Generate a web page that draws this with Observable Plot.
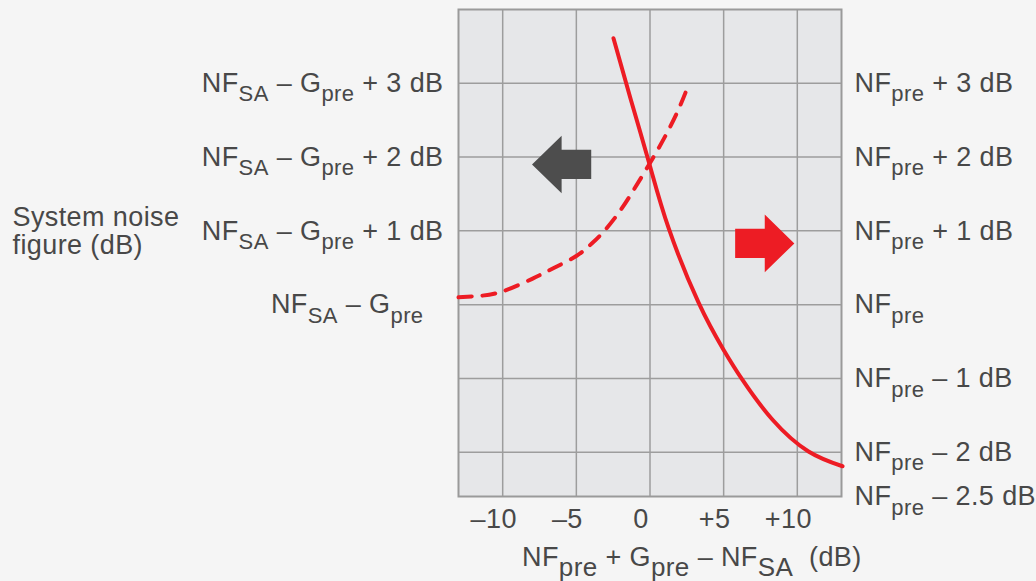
<!DOCTYPE html>
<html>
<head>
<meta charset="utf-8">
<script src="https://cdn.jsdelivr.net/npm/d3@7"></script>
<script src="https://cdn.jsdelivr.net/npm/@observablehq/plot@0.6"></script>
<style>
  html, body { margin: 0; padding: 0; background: #f5f5f5; }
  #chart { width: 1036px; height: 581px; }
</style>
</head>
<body>
<div id="chart"></div>
<script>
// ---- Data ----
// Solid curve: system NF relative to NF_pre (right scale)
const solidX = [-2.48, -1.32, -0.03, 1.26, 3.29, 4.99, 6.28, 8.32, 10.76, 13.07];
const solidY = [3.61, 2.79, 1.9, 1.04, 0.03, -0.61, -1.02, -1.56, -1.99, -2.19];
// Dashed curve: system NF relative to NF_SA - G_pre (left scale)
const dashedX = [-13, -11.5, -10, -8, -6.5, -5, -4, -3.1, -2, -1, 0, 1, 1.9, 2.54];
const dashedY = [0.1, 0.12, 0.18, 0.35, 0.5, 0.66, 0.82, 1.0, 1.28, 1.59, 1.92, 2.27, 2.63, 2.94];

// Tick values and labels
const xTickValues = [-10, -5, 0, 5, 10];
const xTickLabels = ["–10", "–5", "0", "+5", "+10"];
const gridYValues = [-2, -1, 0, 1, 2, 3];
const leftTickValues = [3, 2, 1];
const leftTickLabels = ["NF_{SA} – G_{pre} + 3 dB", "NF_{SA} – G_{pre} + 2 dB", "NF_{SA} – G_{pre} + 1 dB"];
const leftBaseValues = [0];
const leftBaseLabels = ["NF_{SA} – G_{pre}"];
const rightTickValues = [3, 2, 1, 0, -1, -2];
const rightTickLabels = ["NF_{pre} + 3 dB", "NF_{pre} + 2 dB", "NF_{pre} + 1 dB", "NF_{pre}", "NF_{pre} – 1 dB", "NF_{pre} – 2 dB"];
const rightBottomValues = [-2.5];
const rightBottomLabels = ["NF_{pre} – 2.5 dB"];
const yAxisTitle = "System noise\nfigure (dB)";
const xAxisTitle = "NF_{pre} + G_{pre} – NF_{SA} \u00a0(dB)";

// Direction arrows (annotations)
const leftArrow = [{x: -6, y: 1.9}];
const rightArrow = [{x: 7.79, y: 0.83}];

const solidData = solidX.map((x, i) => ({x, y: solidY[i]}));
const dashedData = dashedX.map((x, i) => ({x, y: dashedY[i]}));

const RED = "#ed1c24";
const GRID = "#9d9d9d";

const arrowSymbol = {
  draw(ctx) {
    ctx.moveTo(29.6, 0);
    ctx.lineTo(0, -28.8);
    ctx.lineTo(0, -14.6);
    ctx.lineTo(-29.6, -14.6);
    ctx.lineTo(-29.6, 14.6);
    ctx.lineTo(0, 14.6);
    ctx.lineTo(0, 28.8);
    ctx.closePath();
  }
};

const fmt = (vals, labs) => d => labs[vals.indexOf(d)];

const plot = Plot.plot({
  width: 1036,
  height: 581,
  marginLeft: 458,
  marginRight: 195,
  marginTop: 9,
  marginBottom: 85,
  x: {domain: [-13, 13], label: null},
  y: {domain: [-2.6, 4], label: null},
  style: {
    fontFamily: "'Liberation Sans', Arial, Helvetica, sans-serif",
    fontSize: "27px",
    letterSpacing: "0.4px",
    color: "#484848",
    background: "#f5f5f5",
    overflow: "visible"
  },
  marks: [
    Plot.frame({fill: "#e6e7e9"}),
    Plot.gridX(xTickValues, {stroke: GRID, strokeOpacity: 1, strokeWidth: 1.5}),
    Plot.gridY(gridYValues, {stroke: GRID, strokeOpacity: 1, strokeWidth: 1.5}),
    Plot.frame({stroke: "#9a9a9a", strokeWidth: 2}),
    Plot.line(dashedData, {x: "x", y: "y", stroke: RED, strokeWidth: 4, strokeDasharray: "13,11", strokeLinecap: "round", curve: "natural"}),
    Plot.line(solidData, {x: "x", y: "y", stroke: RED, strokeWidth: 4, strokeLinecap: "round", curve: "natural"}),
    Plot.dot(leftArrow, {x: "x", y: "y", symbol: arrowSymbol, rotate: 180, fill: "#4d4d4d", stroke: null}),
    Plot.dot(rightArrow, {x: "x", y: "y", symbol: arrowSymbol, fill: RED, stroke: null}),
    Plot.axisX(xTickValues, {tickFormat: fmt(xTickValues, xTickLabels), tickSize: 0, tickPadding: 12, dx: -9, label: null}),
    Plot.axisY(leftTickValues, {anchor: "left", tickFormat: fmt(leftTickValues, leftTickLabels), tickSize: 0, tickPadding: 15, label: null}),
    Plot.axisY(leftBaseValues, {anchor: "left", tickFormat: fmt(leftBaseValues, leftBaseLabels), tickSize: 0, tickPadding: 35, label: null}),
    Plot.axisY(rightTickValues, {anchor: "right", tickFormat: fmt(rightTickValues, rightTickLabels), tickSize: 0, tickPadding: 13, label: null}),
    Plot.axisY(rightBottomValues, {anchor: "right", tickFormat: fmt(rightBottomValues, rightBottomLabels), tickSize: 0, tickPadding: 13, dy: 7.5, label: null}),
    Plot.text([{y: 1, t: yAxisTitle}], {y: "y", text: "t", frameAnchor: "left", textAnchor: "start", dx: -446, lineHeight: 1.03, lineAnchor: "middle"}),
    Plot.text([{t: xAxisTitle}], {text: "t", frameAnchor: "bottom", textAnchor: "start", dx: -128, dy: 60.5, lineAnchor: "middle"})
  ]
});

// Render subscripts "_{...}" as real tspans
const NS = "http://www.w3.org/2000/svg";
plot.querySelectorAll("text").forEach(t => {
  const s = t.textContent;
  if (!s.includes("_{")) return;
  const big = s.includes("(dB)");
  const subSize = big ? "26px" : "22px";
  const shift = big ? 10 : 9.5;
  while (t.firstChild) t.removeChild(t.firstChild);
  let down = false;
  for (const p of s.split(/(_\{[^}]*\})/)) {
    if (!p) continue;
    const ts = document.createElementNS(NS, "tspan");
    if (p.startsWith("_{")) {
      ts.textContent = p.slice(2, -1);
      ts.setAttribute("font-size", subSize);
      if (!down) ts.setAttribute("dy", shift);
      down = true;
    } else {
      ts.textContent = p;
      if (down) ts.setAttribute("dy", -shift);
      down = false;
    }
    t.appendChild(ts);
  }
});

document.getElementById("chart").appendChild(plot);
</script>
</body>
</html>
